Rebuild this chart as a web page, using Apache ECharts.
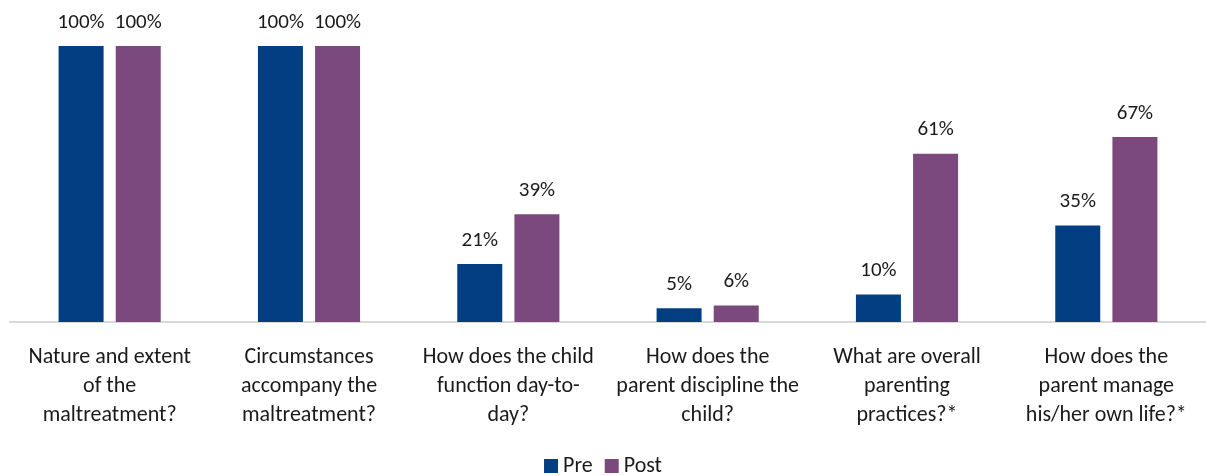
<!DOCTYPE html>
<html><head><meta charset="utf-8">
<script src="https://cdn.jsdelivr.net/npm/echarts@6/dist/echarts.min.js"></script>
<style>html,body{margin:0;padding:0;background:#fff}#c{width:1206px;height:476px}</style>
</head><body><div id="c"></div>
<script>
const categories = [
  "Nature and extent\nof the\nmaltreatment?",
  "Circumstances\naccompany the\nmaltreatment?",
  "How does the child\nfunction day-to-\nday?",
  "How does the\nparent discipline the\nchild?",
  "What are overall\nparenting\npractices?*",
  "How does the\nparent manage\nhis/her own life?*"
];
const preValues = [100, 100, 21, 5, 10, 35];
const postValues = [100, 100, 39, 6, 61, 67];
const seriesNames = ["Pre", "Post"];
const FONT = "Carlito, Lato, 'Liberation Sans', sans-serif";
const chart = echarts.init(document.getElementById('c'));
const lbl = {show:true, position:'top', distance:13, formatter:p=>p.value+'%', color:'#1a1a1a', fontSize:21, fontFamily:FONT};
chart.setOption({
  animation:false,
  grid:{left:10, right:-4, top:46, bottom:154, containLabel:false},
  legend:{bottom:-6, left:'center', itemWidth:14, itemHeight:14, itemGap:12, icon:'rect',
    textStyle:{fontSize:22, fontFamily:FONT, color:'#1a1a1a'}, data:seriesNames},
  xAxis:{type:'category', data:categories,
    axisLine:{lineStyle:{color:'#d9d9d9', width:2}}, axisTick:{show:false},
    axisLabel:{interval:0, margin:21, fontSize:22, lineHeight:29, fontFamily:FONT, color:'#1a1a1a'}},
  yAxis:{type:'value', min:0, max:100, show:false, splitLine:{show:false}},
  series:[
    {name:seriesNames[0], type:'bar', data:preValues, barWidth:45, barGap:'27%', itemStyle:{color:'#023e81'}, label:lbl},
    {name:seriesNames[1], type:'bar', data:postValues, barWidth:45, itemStyle:{color:'#7b497d'}, label:lbl}
  ]
});
</script></body></html>
